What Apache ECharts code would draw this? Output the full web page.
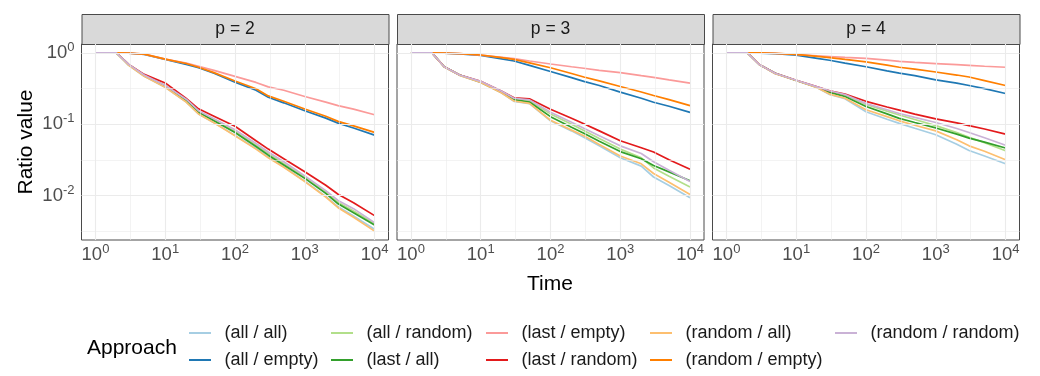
<!DOCTYPE html>
<html><head><meta charset="utf-8">
<script src="https://cdn.jsdelivr.net/npm/echarts@6/dist/echarts.min.js"></script>
<style>html,body{margin:0;padding:0;background:#fff}#c{width:1040px;height:376px}</style>
</head><body><div id="c"></div>
<script>
// ---------- data ----------
const time = [1, 2, 3, 5, 10, 20, 30, 50, 100, 200, 300, 500, 1000, 2000, 3000, 5000, 10000];
const approaches = ['(all / all)', '(all / empty)', '(all / random)', '(last / all)', '(last / empty)',
  '(last / random)', '(random / all)', '(random / empty)', '(random / random)'];
const facets = ['p = 2', 'p = 3', 'p = 4'];
const xTickExponents = [0, 1, 2, 3, 4];
const yTickExponents = [-2, -1, 0];

// p = 2
const p2_allAll       = [1, 1, 0.67, 0.47, 0.33, 0.205, 0.14, 0.105, 0.070, 0.046, 0.035, 0.0255, 0.0160, 0.0098, 0.0070, 0.0052, 0.0034];
const p2_allEmpty     = [1, 1, 0.995, 0.95, 0.81, 0.69, 0.62, 0.52, 0.39, 0.30, 0.24, 0.20, 0.155, 0.122, 0.104, 0.089, 0.0707];
const p2_allRandom    = [1, 1, 0.69, 0.49, 0.35, 0.22, 0.15, 0.115, 0.080, 0.051, 0.039, 0.028, 0.0182, 0.0112, 0.0081, 0.0061, 0.0041];
const p2_lastAll      = [1, 1, 0.68, 0.48, 0.34, 0.215, 0.148, 0.112, 0.077, 0.049, 0.037, 0.027, 0.0175, 0.0108, 0.0077, 0.0058, 0.0039];
const p2_lastEmpty    = [1, 1, 0.995, 0.96, 0.82, 0.72, 0.65, 0.57, 0.47, 0.386, 0.335, 0.30, 0.245, 0.205, 0.183, 0.163, 0.136];
const p2_lastRandom   = [1, 1, 0.69, 0.50, 0.38, 0.23, 0.165, 0.13, 0.094, 0.059, 0.045, 0.033, 0.0217, 0.014, 0.0105, 0.0080, 0.00527];
const p2_randomAll    = [1, 1, 0.67, 0.47, 0.33, 0.205, 0.14, 0.105, 0.069, 0.045, 0.034, 0.025, 0.0158, 0.0096, 0.0068, 0.0050, 0.0032];
const p2_randomEmpty  = [1, 1, 0.995, 0.96, 0.82, 0.71, 0.63, 0.53, 0.405, 0.315, 0.25, 0.21, 0.164, 0.13, 0.11, 0.095, 0.077];
const p2_randomRandom = [1, 1, 0.69, 0.49, 0.35, 0.225, 0.155, 0.12, 0.084, 0.054, 0.041, 0.030, 0.019, 0.0118, 0.0086, 0.0066, 0.0042];

// p = 3
const p3_allAll       = [1, 1, 0.635, 0.485, 0.385, 0.275, 0.21, 0.195, 0.112, 0.081, 0.066, 0.050, 0.034, 0.026, 0.0183, 0.0139, 0.0094];
const p3_allEmpty     = [1, 1, 0.995, 0.97, 0.92, 0.826, 0.77, 0.67, 0.55, 0.45, 0.40, 0.35, 0.282, 0.232, 0.204, 0.179, 0.147];
const p3_allRandom    = [1, 1, 0.64, 0.49, 0.395, 0.285, 0.228, 0.212, 0.14, 0.10, 0.082, 0.0635, 0.045, 0.034, 0.0245, 0.0187, 0.0133];
const p3_lastAll      = [1, 1, 0.64, 0.49, 0.39, 0.28, 0.222, 0.205, 0.128, 0.091, 0.075, 0.058, 0.0415, 0.033, 0.0265, 0.0216, 0.0162];
const p3_lastEmpty    = [1, 1, 0.995, 0.975, 0.93, 0.87, 0.83, 0.77, 0.70, 0.64, 0.61, 0.57, 0.53, 0.48, 0.455, 0.42, 0.377];
const p3_lastRandom   = [1, 1, 0.64, 0.49, 0.40, 0.29, 0.235, 0.228, 0.163, 0.122, 0.102, 0.081, 0.059, 0.047, 0.041, 0.032, 0.0235];
const p3_randomAll    = [1, 1, 0.635, 0.485, 0.385, 0.275, 0.212, 0.197, 0.114, 0.083, 0.069, 0.052, 0.036, 0.028, 0.0205, 0.0155, 0.0104];
const p3_randomEmpty  = [1, 1, 0.995, 0.975, 0.935, 0.857, 0.81, 0.726, 0.62, 0.515, 0.46, 0.405, 0.339, 0.284, 0.253, 0.222, 0.183];
const p3_randomRandom = [1, 1, 0.64, 0.49, 0.40, 0.29, 0.232, 0.22, 0.148, 0.107, 0.088, 0.069, 0.050, 0.039, 0.030, 0.0228, 0.0158];

// p = 4
const p4_allAll       = [1, 1, 0.68, 0.51, 0.41, 0.325, 0.262, 0.228, 0.150, 0.118, 0.103, 0.088, 0.0714, 0.0527, 0.043, 0.036, 0.028];
const p4_allEmpty     = [1, 1, 0.995, 0.98, 0.93, 0.84, 0.79, 0.72, 0.64, 0.56, 0.52, 0.48, 0.42, 0.377, 0.35, 0.316, 0.27];
const p4_allRandom    = [1, 1, 0.68, 0.52, 0.41, 0.33, 0.285, 0.255, 0.19, 0.153, 0.135, 0.117, 0.096, 0.077, 0.066, 0.0555, 0.0427];
const p4_lastAll      = [1, 1, 0.68, 0.52, 0.41, 0.33, 0.28, 0.245, 0.178, 0.14, 0.121, 0.106, 0.089, 0.073, 0.064, 0.0564, 0.0466];
const p4_lastEmpty    = [1, 1, 0.998, 0.985, 0.95, 0.91, 0.89, 0.865, 0.84, 0.79, 0.76, 0.735, 0.71, 0.685, 0.67, 0.65, 0.63];
const p4_lastRandom   = [1, 1, 0.68, 0.52, 0.415, 0.335, 0.295, 0.265, 0.21, 0.175, 0.158, 0.139, 0.119, 0.105, 0.096, 0.086, 0.073];
const p4_randomAll    = [1, 1, 0.68, 0.51, 0.41, 0.325, 0.265, 0.232, 0.16, 0.128, 0.112, 0.097, 0.081, 0.0607, 0.050, 0.042, 0.032];
const p4_randomEmpty  = [1, 1, 0.998, 0.985, 0.955, 0.895, 0.86, 0.81, 0.75, 0.676, 0.63, 0.593, 0.54, 0.49, 0.46, 0.41, 0.35];
const p4_randomRandom = [1, 1, 0.68, 0.52, 0.415, 0.335, 0.295, 0.262, 0.195, 0.16, 0.142, 0.125, 0.106, 0.0875, 0.077, 0.065, 0.051];

const facetData = [
  [p2_allAll, p2_allEmpty, p2_allRandom, p2_lastAll, p2_lastEmpty, p2_lastRandom, p2_randomAll, p2_randomEmpty, p2_randomRandom],
  [p3_allAll, p3_allEmpty, p3_allRandom, p3_lastAll, p3_lastEmpty, p3_lastRandom, p3_randomAll, p3_randomEmpty, p3_randomRandom],
  [p4_allAll, p4_allEmpty, p4_allRandom, p4_lastAll, p4_lastEmpty, p4_lastRandom, p4_randomAll, p4_randomEmpty, p4_randomRandom]
];

// ---------- styling / layout ----------
const colors = ['#A6CEE3', '#1F78B4', '#B2DF8A', '#33A02C', '#FB9A99', '#E31A1C', '#FDBF6F', '#FF7F00', '#CAB2D6'];
const FONT = 'Liberation Sans, Arial, Helvetica, sans-serif';
const panelLeft = [81.5, 397, 712.5];
const panelWidth = 307;
const panelTop = 44, panelHeight = 196;
const stripTop = 14, stripHeight = 30;

const log10 = Math.log10;
const xMinL = log10(time[0]), xMaxL = log10(time[time.length - 1]);
const xPad = (xMaxL - xMinL) * 0.05;
let allLogs = [];
facetData.forEach(f => f.forEach(s => s.forEach(v => allLogs.push(log10(v)))));
const yMinL = Math.min(...allLogs), yMaxL = Math.max(...allLogs);
const yPad = (yMaxL - yMinL) * 0.05;

const rich = {
  b: { fontSize: 18.5, color: '#4D4D4D', fontFamily: FONT, lineHeight: 24 },
  s: { fontSize: 13, color: '#4D4D4D', fontFamily: FONT, lineHeight: 13, verticalAlign: 'top' }
};
const powFmt = v => '{b|10}{s|' + (v < 0 ? '-' + Math.abs(v) : v) + '}';

const grids = [], xAxes = [], yAxes = [], series = [];
facets.forEach((fname, i) => {
  grids.push({ left: panelLeft[i], top: panelTop, width: panelWidth, height: panelHeight,
    show: true, borderColor: '#4a4a4a', borderWidth: 1, backgroundColor: 'transparent' });
  xAxes.push({
    type: 'value', gridIndex: i, min: xMinL - xPad, max: xMaxL + xPad,
    axisLine: { show: false },
    axisTick: { show: true, customValues: xTickExponents, length: 5, lineStyle: { color: '#4a4a4a', width: 1 } },
    axisLabel: { customValues: xTickExponents, formatter: powFmt, rich: rich, margin: 3 },
    splitLine: { show: false }
  });
  yAxes.push({
    type: 'value', gridIndex: i, min: yMinL - yPad, max: yMaxL + yPad,
    axisLine: { show: false },
    axisTick: { show: i === 0, customValues: yTickExponents, length: 5, lineStyle: { color: '#4a4a4a', width: 1 } },
    axisLabel: { show: i === 0, customValues: yTickExponents, formatter: powFmt, rich: rich, margin: 7 },
    splitLine: { show: false }
  });
  // grid lines (major at whole decades, minor at half decades)
  const gl = [];
  for (let e = 0; e <= 8; e++) {
    gl.push({ xAxis: e / 2, lineStyle: { color: '#EBEBEB', width: e % 2 === 0 ? 1.1 : 0.6, type: 'solid' } });
  }
  for (let e = -5; e <= 0; e++) {
    gl.push({ yAxis: e / 2, lineStyle: { color: '#EBEBEB', width: e % 2 === 0 ? 1.1 : 0.6, type: 'solid' } });
  }
  series.push({
    type: 'line', xAxisIndex: i, yAxisIndex: i, data: [], silent: true, z: 1,
    markLine: { silent: true, symbol: 'none', label: { show: false }, animation: false, data: gl }
  });
  facetData[i].forEach((vals, j) => {
    series.push({
      name: approaches[j], type: 'line', xAxisIndex: i, yAxisIndex: i, z: 2,
      showSymbol: false, symbol: 'none', animation: false,
      lineStyle: { color: colors[j], width: 1.7 }, itemStyle: { color: colors[j] },
      emphasis: { disabled: true },
      data: time.map((t, k) => [log10(t), log10(vals[k])])
    });
  });
});

// legends: one component per entry, laid out column-major in 2 rows
const legendColLeft = [189, 331, 486, 650, 835];
const legendRowTop = [323, 350];
const legends = approaches.map((name, j) => ({
  orient: 'horizontal', left: legendColLeft[Math.floor(j / 2)], top: legendRowTop[j % 2],
  itemWidth: 22, itemHeight: 2, icon: 'rect', selectedMode: false, padding: 0,
  data: [name],
  textStyle: { fontFamily: FONT, fontSize: 18, color: '#1A1A1A', lineHeight: 20, padding: [0, 0, 0, 8.5] }
}));

const graphics = [];
facets.forEach((fname, i) => {
  graphics.push({ type: 'rect', left: panelLeft[i], top: stripTop,
    shape: { width: panelWidth, height: stripHeight },
    style: { fill: '#D9D9D9', stroke: '#4a4a4a', lineWidth: 1 } });
  graphics.push({ type: 'text', x: panelLeft[i] + panelWidth / 2, y: stripTop + stripHeight / 2,
    style: { text: fname, fontFamily: FONT, fontSize: 17.5, fill: '#1A1A1A', align: 'center', verticalAlign: 'middle' } });
});
graphics.push({ type: 'text', x: 550, y: 284,
  style: { text: 'Time', fontFamily: FONT, fontSize: 21, fill: '#000', align: 'center', verticalAlign: 'middle' } });
graphics.push({ type: 'text', x: 26, y: 142, rotation: Math.PI / 2,
  style: { text: 'Ratio value', fontFamily: FONT, fontSize: 21, fill: '#000', align: 'center', verticalAlign: 'middle' } });
graphics.push({ type: 'text', x: 87, y: 348,
  style: { text: 'Approach', fontFamily: FONT, fontSize: 21, fill: '#000', align: 'left', verticalAlign: 'middle' } });

const chart = echarts.init(document.getElementById('c'), null, { renderer: 'canvas' });
chart.setOption({
  animation: false,
  textStyle: { fontFamily: FONT },
  grid: grids, xAxis: xAxes, yAxis: yAxes,
  legend: legends,
  graphic: graphics,
  series: series
});
</script>
</body></html>
